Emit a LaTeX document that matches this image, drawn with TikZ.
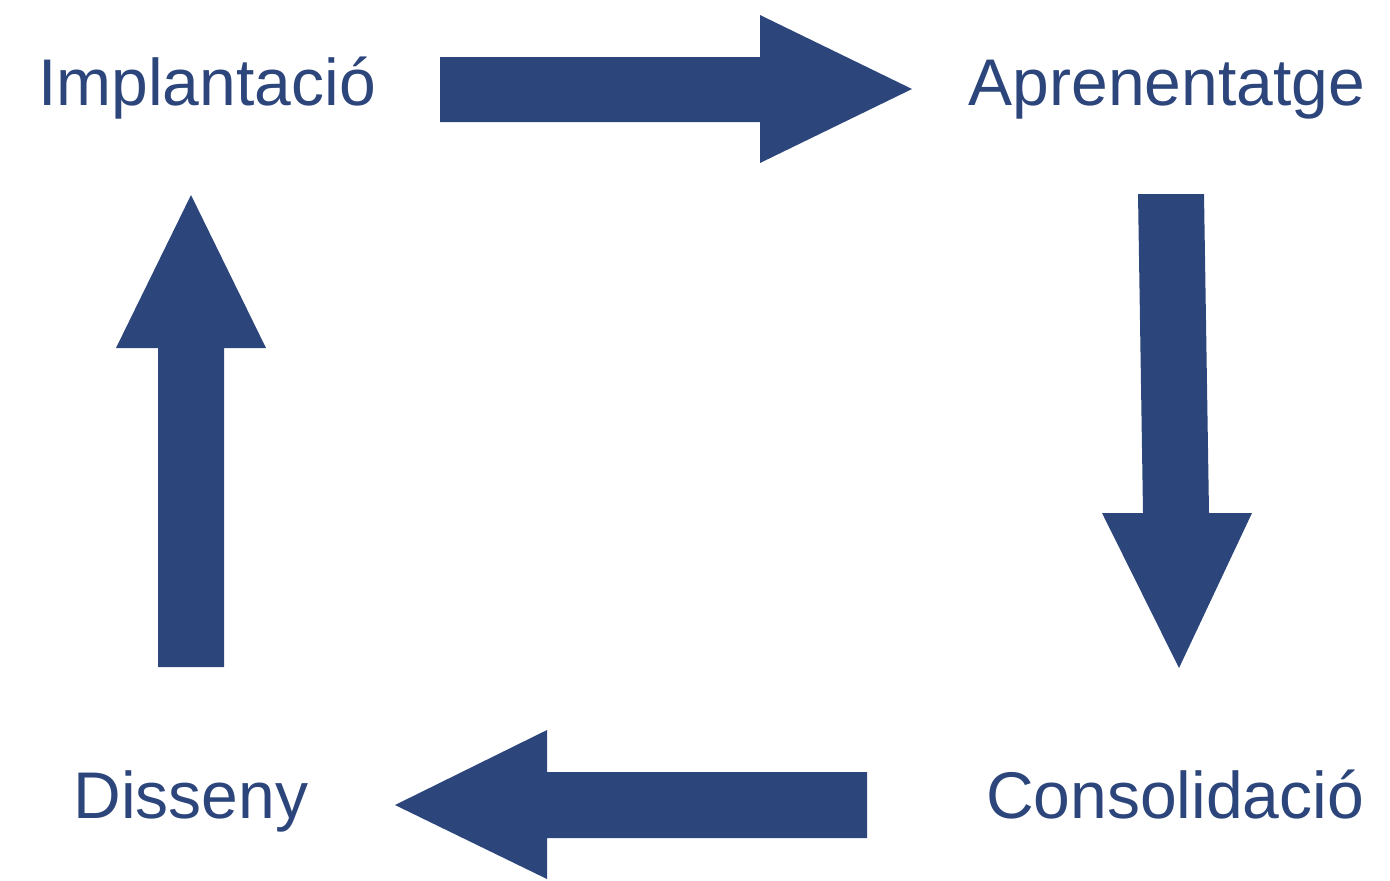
\documentclass[tikz,border=0pt]{standalone}
\usepackage{fontspec}
\setmainfont{Liberation Sans}
\definecolor{cycblue}{RGB}{44,70,124}
\begin{document}
\begin{tikzpicture}[x=0.5pt,y=-0.5pt,
  lbl/.style={anchor=base,inner sep=0pt,text=cycblue,font=\fontsize{33}{36}\selectfont},
  blockarrow/.style={fill=cycblue,draw=none}]
\useasboundingbox (0,0) rectangle (1390,880);
% labels
\node[lbl] (impl) at (207,105) {Implantació};
\node[lbl] (apren) at (1167,105) {Aprenentatge};
\node[lbl] (diss) at (191,818) {Disseny};
\node[lbl] (cons) at (1175,818) {Consolidació};
% top arrow (right)
\fill[blockarrow] (440,57) -- (760,57) -- (760,15) -- (912,89) -- (760,163) -- (760,122) -- (440,122) -- cycle;
% right arrow (down)
\fill[blockarrow] (1138,194) -- (1204,194) -- (1209,513) -- (1252,513) -- (1179,668) -- (1102,513) -- (1143,513) -- cycle;
% bottom arrow (left)
\fill[blockarrow] (867,772) -- (547,772) -- (547,730) -- (395,805) -- (547,879) -- (547,838) -- (867,838) -- cycle;
% left arrow (up)
\fill[blockarrow] (158,667) -- (158,348) -- (116,348) -- (191,195) -- (266,348) -- (224,348) -- (224,667) -- cycle;
\end{tikzpicture}
\end{document}
